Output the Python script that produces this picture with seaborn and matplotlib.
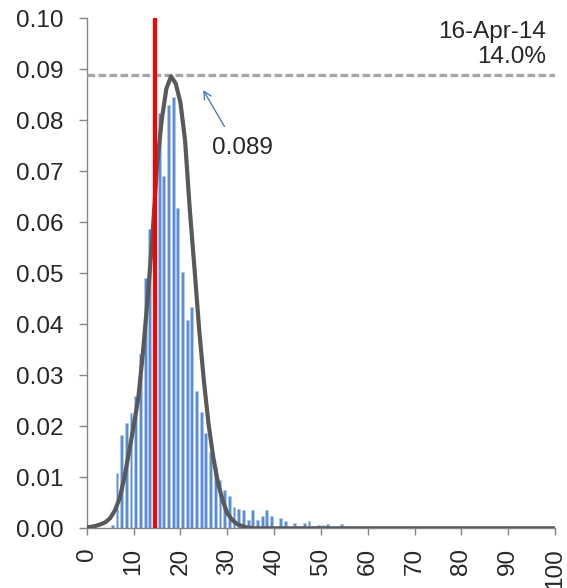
import matplotlib
matplotlib.use('Agg')
from matplotlib import pyplot as plt
import seaborn as sns

# histogram bins (integer vol levels) and their frequencies
bin_x = list(range(5, 55))
bin_freq = [0.0007, 0.0108, 0.0182, 0.0206, 0.0226, 0.0260, 0.0341, 0.0490, 0.0587, 0.0787,
            0.0814, 0.0690, 0.0830, 0.0846, 0.0627, 0.0502, 0.0408, 0.0433, 0.0269, 0.0228,
            0.0186, 0.0150, 0.0120, 0.0095, 0.0076, 0.0064, 0.0041, 0.0037, 0.0035, 0.0016,
            0.0036, 0.0016, 0.0024, 0.0036, 0.0024, 0.0003, 0.0020, 0.0015, 0.0000, 0.0010,
            0.0000, 0.0010, 0.0015, 0.0004, 0.0006, 0.0006, 0.0008, 0.0000, 0.0000, 0.0008]

# fitted density
curve_x = list(range(0, 41)) + [100]
curve_y = [0.0002, 0.0003, 0.0005, 0.0008, 0.0012, 0.0020, 0.0035, 0.0058, 0.0098, 0.0148,
           0.0200, 0.0255, 0.0345, 0.0450, 0.0570, 0.0710, 0.0800, 0.0862, 0.0886, 0.0872,
           0.0835, 0.0760, 0.0625, 0.0510, 0.0390, 0.0290, 0.0205, 0.0140, 0.0090, 0.0055,
           0.0030, 0.0017, 0.0009, 0.0005, 0.0002, 0.0001, 0.0, 0.0, 0.0, 0.0, 0.0, 0.0]

current_vol = 14.5
peak = 0.0888
date_label = '16-Apr-14'
vol_label = '14.0%'
peak_label = '0.089'

sns.set_style('white')
plt.rcParams['font.family'] = ['Liberation Sans', 'DejaVu Sans']
fs = 17.5

fig = plt.figure(figsize=(5.67, 5.88), dpi=100)
ax = fig.add_axes([0.153, 0.1015, 0.826, 0.8675])

shift = 0.45  # bars sit a bit right of the integer tick
sns.barplot(x=[v + shift for v in bin_x], y=bin_freq, native_scale=True, width=0.62,
            color='#5A8DD5', saturation=1, edgecolor='#B3CBEC', linewidth=0.6,
            errorbar=None, ax=ax, zorder=2)

ax.axhline(peak, color='#A6A6A6', lw=2.4, ls=(0, (2.3, 1.0)), zorder=3)
sns.lineplot(x=curve_x, y=curve_y, color='#595959', lw=3, ax=ax, zorder=4,
             solid_joinstyle='round', solid_capstyle='round')
ax.axvline(current_vol, color='#FF0000', lw=3, zorder=5)

ax.annotate('', xy=(24.55, 0.0864), xytext=(29.7, 0.0783),
            arrowprops=dict(arrowstyle='->', color='#4A7EBB', lw=1, mutation_scale=14))
ax.text(33.3, 0.0745, peak_label, ha='center', va='center', fontsize=fs)
fig.text(546 / 567, 1 - 21 / 588, date_label + '\n' + vol_label, ha='right', va='top',
         fontsize=fs, linespacing=1.15)

ax.set_xlim(0, 100)
ax.set_ylim(0, 0.10)
ax.set_xticks(range(0, 101, 10))
ax.set_xticklabels([str(v) for v in range(0, 101, 10)], rotation=90)
ax.set_yticks([i / 100 for i in range(11)])
ax.set_yticklabels([f'{i / 100:.2f}' for i in range(11)])
ax.tick_params(axis='y', length=6, width=1, color='#868686', labelsize=fs, pad=11, left=True)
ax.tick_params(axis='x', length=5, width=1, color='#868686', labelsize=fs, pad=9, bottom=True)
for s in ['top', 'right']:
    ax.spines[s].set_visible(False)
for s in ['left', 'bottom']:
    ax.spines[s].set_color('#868686')
    ax.spines[s].set_linewidth(1)
ax.set_xlabel('')
ax.set_ylabel('')

fig.savefig('out.png', dpi=100)
